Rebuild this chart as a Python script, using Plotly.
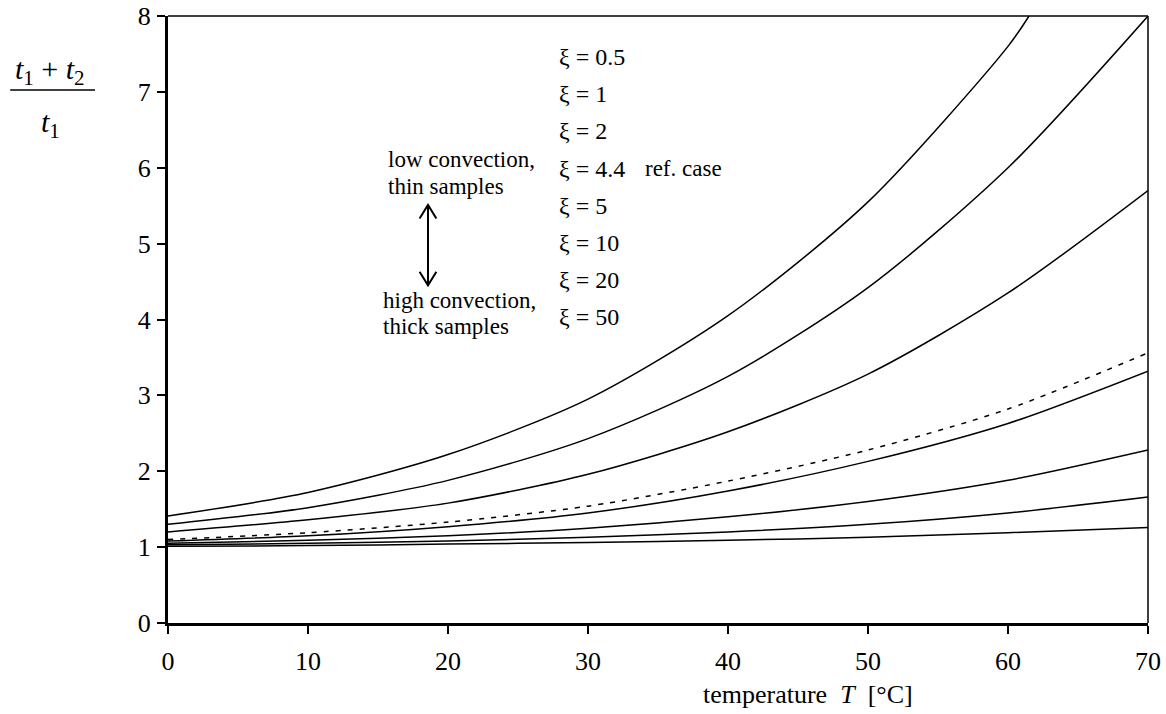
import plotly.graph_objects as go

# ---- data ----
T = [0, 10, 20, 30, 40, 50, 60, 70]
T_xi_05 = [0, 10, 20, 30, 40, 50, 60, 61.5]
xi_05 = [1.41, 1.72, 2.22, 2.95, 4.05, 5.55, 7.60, 8.00]
xi_1 = [1.30, 1.52, 1.88, 2.43, 3.25, 4.42, 6.00, 8.00]
xi_2 = [1.20, 1.36, 1.58, 1.96, 2.52, 3.28, 4.35, 5.70]
xi_44 = [1.10, 1.19, 1.33, 1.54, 1.87, 2.28, 2.82, 3.56]
xi_5 = [1.08, 1.15, 1.27, 1.45, 1.74, 2.13, 2.63, 3.32]
xi_10 = [1.05, 1.09, 1.15, 1.25, 1.40, 1.60, 1.88, 2.28]
xi_20 = [1.03, 1.05, 1.08, 1.13, 1.20, 1.30, 1.45, 1.66]
xi_50 = [1.01, 1.02, 1.04, 1.06, 1.09, 1.13, 1.19, 1.26]

xi_labels = ["ξ = 0.5", "ξ = 1", "ξ = 2", "ξ = 4.4", "ξ = 5", "ξ = 10", "ξ = 20", "ξ = 50"]
x_ticks = [0, 10, 20, 30, 40, 50, 60, 70]
y_ticks = [0, 1, 2, 3, 4, 5, 6, 7, 8]

FONT = "Liberation Serif, Times New Roman, serif"

fig = go.Figure()
series = [
    (T_xi_05, xi_05, "solid"),
    (T, xi_1, "solid"),
    (T, xi_2, "solid"),
    (T, xi_44, "5px,7px"),
    (T, xi_5, "solid"),
    (T, xi_10, "solid"),
    (T, xi_20, "solid"),
    (T, xi_50, "solid"),
]
for (xs, ys, dash), name in zip(series, xi_labels):
    fig.add_trace(go.Scatter(x=xs, y=ys, mode="lines", name=name,
                             line=dict(color="black", width=1.5, dash=dash, shape="spline", smoothing=0.8),
                             showlegend=False, hoverinfo="skip"))

# xi labels
for i, lab in enumerate(xi_labels):
    fig.add_annotation(x=27.8, y=7.46 - 0.49 * i, xref="x", yref="y", text=lab,
                       showarrow=False, xanchor="left", yanchor="middle",
                       font=dict(family=FONT, size=24, color="black"))
fig.add_annotation(x=33.9, y=5.99, text="ref. case", showarrow=False, xanchor="left",
                   yanchor="middle", font=dict(family=FONT, size=23, color="black"))
fig.add_annotation(x=15.6, y=6.11, text="low convection,", showarrow=False, xanchor="left",
                   yanchor="middle", font=dict(family=FONT, size=23, color="black"))
fig.add_annotation(x=15.6, y=5.75, text="thin samples", showarrow=False, xanchor="left",
                   yanchor="middle", font=dict(family=FONT, size=23, color="black"))
fig.add_annotation(x=15.2, y=4.25, text="high convection,", showarrow=False, xanchor="left",
                   yanchor="middle", font=dict(family=FONT, size=23, color="black"))
fig.add_annotation(x=15.2, y=3.91, text="thick samples", showarrow=False, xanchor="left",
                   yanchor="middle", font=dict(family=FONT, size=23, color="black"))

# double arrow
ax_x, y_top, y_bot = 18.57, 5.51, 4.45
fig.add_shape(type="line", x0=ax_x, x1=ax_x, y0=y_bot, y1=y_top, line=dict(color="black", width=2))
fig.add_shape(type="path", path=f"M {ax_x-0.6},{y_top-0.18} L {ax_x},{y_top} L {ax_x+0.6},{y_top-0.18}",
              line=dict(color="black", width=2))
fig.add_shape(type="path", path=f"M {ax_x-0.6},{y_bot+0.18} L {ax_x},{y_bot} L {ax_x+0.6},{y_bot+0.18}",
              line=dict(color="black", width=2))

# top / right thin borders
fig.add_shape(type="line", xref="paper", yref="paper", x0=0, x1=1, y0=1, y1=1,
              line=dict(color="black", width=1.5))
fig.add_shape(type="line", xref="paper", yref="paper", x0=1, x1=1, y0=0, y1=1,
              line=dict(color="black", width=1.5))

# y-axis title as fraction
fig.add_annotation(xref="paper", yref="paper", x=-0.120, y=0.910,
                   text="<i>t</i><sub>1</sub> + <i>t</i><sub>2</sub>", showarrow=False,
                   xanchor="center", yanchor="middle", font=dict(family=FONT, size=30, color="black"))
fig.add_shape(type="line", xref="paper", yref="paper", x0=-0.161, x1=-0.0745, y0=0.878, y1=0.878,
              line=dict(color="black", width=1.5))
fig.add_annotation(xref="paper", yref="paper", x=-0.120, y=0.822,
                   text="<i>t</i><sub>1</sub>", showarrow=False,
                   xanchor="center", yanchor="middle", font=dict(family=FONT, size=30, color="black"))

# x-axis title
fig.add_annotation(xref="paper", yref="paper", x=0.653, y=-0.1186,
                   text="temperature  <i>T</i>  [°C]", showarrow=False,
                   xanchor="center", yanchor="middle", font=dict(family=FONT, size=26, color="black"))

fig.update_xaxes(range=[0, 70], tickvals=x_ticks, ticks="outside", ticklen=8, tickwidth=2,
                 tickcolor="black", showline=True, linewidth=3, linecolor="black",
                 showgrid=False, zeroline=False, ticklabelstandoff=5, automargin=False,
                 ticklabeloverflow="allow",
                 tickfont=dict(family=FONT, size=26, color="black"))
fig.update_yaxes(range=[0, 8], tickvals=y_ticks, ticks="outside", ticklen=8, tickwidth=2,
                 tickcolor="black", showline=True, linewidth=3, linecolor="black",
                 showgrid=False, zeroline=False, ticklabelstandoff=1, automargin=False,
                 ticklabeloverflow="allow",
                 tickfont=dict(family=FONT, size=26, color="black"))

fig.update_layout(width=1166, height=714, margin=dict(l=168, r=18, t=16, b=91),
                  paper_bgcolor="white", plot_bgcolor="white", showlegend=False)

# remove the default 8px page margin so the figure sits at the window origin
fig.write_html("out.html", config={"displayModeBar": False},
               post_script="document.body.style.margin='0';document.body.style.overflow='hidden';")
